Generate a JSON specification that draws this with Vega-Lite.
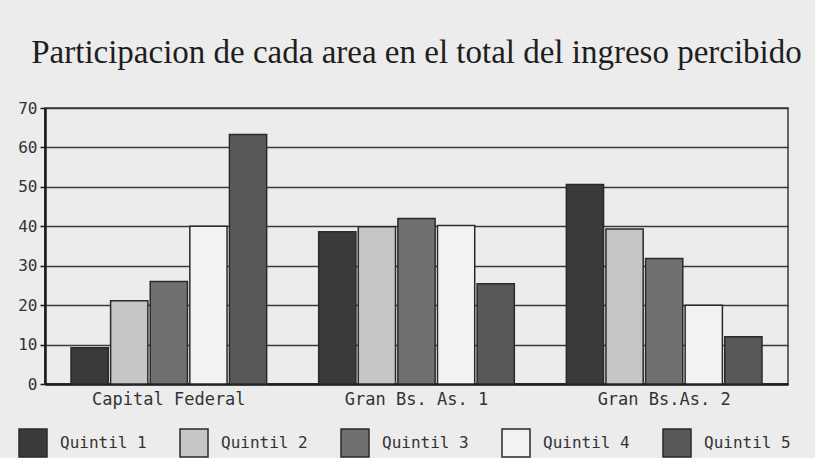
{
  "$schema": "https://vega.github.io/schema/vega-lite/v6.json",
  "width": 743,
  "height": 276,
  "autosize": {"type": "none"},
  "padding": {"left": 45, "top": 108, "right": 27, "bottom": 74},
  "background": "#ececec",
  "title": {
    "text": "Participacion de cada area en el total del ingreso percibido",
    "font": "Liberation Serif",
    "fontSize": 33,
    "fontWeight": "normal",
    "color": "#1e1e1e",
    "anchor": "middle",
    "baseline": "alphabetic",
    "offset": 4
  },
  "data": {
    "values": [
      {"area": "Capital Federal", "quintil": "Quintil 1", "valor": 9.2},
      {"area": "Capital Federal", "quintil": "Quintil 2", "valor": 21.1},
      {"area": "Capital Federal", "quintil": "Quintil 3", "valor": 26},
      {"area": "Capital Federal", "quintil": "Quintil 4", "valor": 40},
      {"area": "Capital Federal", "quintil": "Quintil 5", "valor": 63.3},
      {"area": "Gran Bs. As. 1", "quintil": "Quintil 1", "valor": 38.6},
      {"area": "Gran Bs. As. 1", "quintil": "Quintil 2", "valor": 39.9},
      {"area": "Gran Bs. As. 1", "quintil": "Quintil 3", "valor": 42},
      {"area": "Gran Bs. As. 1", "quintil": "Quintil 4", "valor": 40.2},
      {"area": "Gran Bs. As. 1", "quintil": "Quintil 5", "valor": 25.4},
      {"area": "Gran Bs.As. 2", "quintil": "Quintil 1", "valor": 50.6},
      {"area": "Gran Bs.As. 2", "quintil": "Quintil 2", "valor": 39.3},
      {"area": "Gran Bs.As. 2", "quintil": "Quintil 3", "valor": 31.8},
      {"area": "Gran Bs.As. 2", "quintil": "Quintil 4", "valor": 20},
      {"area": "Gran Bs.As. 2", "quintil": "Quintil 5", "valor": 12}
    ]
  },
  "mark": {"type": "bar", "stroke": "#2a2a2a", "strokeWidth": 1.5},
  "encoding": {
    "x": {
      "field": "area",
      "type": "nominal",
      "sort": null,
      "scale": {"paddingInner": 0.21, "paddingOuter": 0.105},
      "axis": {
        "title": null,
        "labelAngle": 0,
        "ticks": false,
        "labelFont": "DejaVu Sans Mono",
        "labelFontSize": 17,
        "labelColor": "#333333",
        "labelPadding": 7,
        "domainColor": "#1a1a1a",
        "domainWidth": 2.5
      }
    },
    "xOffset": {
      "field": "quintil",
      "type": "nominal",
      "scale": {"paddingInner": 0.06, "paddingOuter": 0}
    },
    "y": {
      "field": "valor",
      "type": "quantitative",
      "scale": {"domain": [0, 70], "nice": false},
      "axis": {
        "title": null,
        "values": [0, 10, 20, 30, 40, 50, 60, 70],
        "labelFont": "DejaVu Sans Mono",
        "labelFontSize": 16,
        "labelColor": "#333333",
        "labelPadding": 3,
        "tickSize": 5,
        "tickColor": "#1a1a1a",
        "tickWidth": 1.5,
        "domainColor": "#1a1a1a",
        "domainWidth": 2.5,
        "grid": true,
        "gridColor": "#3a3a3a",
        "gridWidth": 1.5
      }
    },
    "fill": {
      "field": "quintil",
      "type": "nominal",
      "scale": {
        "domain": ["Quintil 1", "Quintil 2", "Quintil 3", "Quintil 4", "Quintil 5"],
        "range": ["#3a3a3a", "#c6c6c6", "#707070", "#f2f2f2", "#585858"]
      },
      "legend": {
        "title": null,
        "orient": "none",
        "legendX": -27,
        "legendY": 320,
        "direction": "horizontal",
        "columns": 5,
        "symbolType": "square",
        "symbolSize": 784,
        "symbolStrokeColor": "#2a2a2a",
        "symbolStrokeWidth": 1.5,
        "labelFont": "DejaVu Sans Mono",
        "labelFontSize": 16,
        "labelColor": "#333333",
        "labelOffset": 12,
        "columnPadding": 30,
        "labelLimit": 200
      }
    }
  },
  "config": {
    "view": {"stroke": "#3a3a3a", "strokeWidth": 1.5}
  }
}
